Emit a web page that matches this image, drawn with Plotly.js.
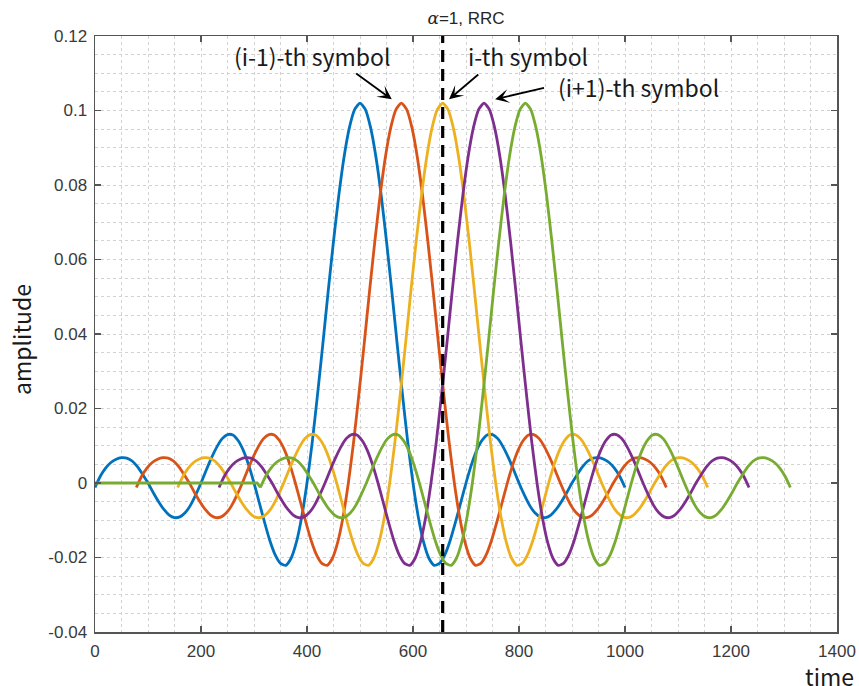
<!DOCTYPE html>
<html>
<head>
<meta charset="utf-8">
<script src="https://cdn.plot.ly/plotly-3.0.1.min.js"></script>
<style>
  html, body { margin: 0; padding: 0; background: #ffffff; }
  #chart { width: 859px; height: 686px; }
</style>
</head>
<body>
<div id="chart"></div>
<script>
// Sample times of one pulse, measured from the start of its symbol
const pulseTime = [
  0, 10, 20, 30, 40, 50, 60, 70, 80, 90,
  100, 110, 120, 130, 140, 150, 160, 170, 180, 190,
  200, 210, 220, 230, 240, 250, 260, 270, 280, 290,
  300, 310, 320, 330, 340, 350, 360, 370, 380, 390,
  400, 410, 420, 430, 440, 450, 460, 470, 480, 490,
  500,
  510, 520, 530, 540, 550, 560, 570, 580, 590, 600,
  610, 620, 630, 640, 650, 660, 670, 680, 690, 700,
  710, 720, 730, 740, 750, 760, 770, 780, 790, 800,
  810, 820, 830, 840, 850, 860, 870, 880, 890, 900,
  910, 920, 930, 940, 950, 960, 970, 980, 990, 1000
];

// Pulse amplitude at those times (alpha = 1, RRC)
const pulseAmp = [
  -0.0012, 0.0018, 0.0040, 0.0055, 0.0064, 0.0068, 0.0067, 0.0059, 0.0044, 0.0023,
  0.0000, -0.0026, -0.0050, -0.0071, -0.0086, -0.0093, -0.0091, -0.0080, -0.0060, -0.0032,
  0.0000, 0.0035, 0.0068, 0.0097, 0.0119, 0.0130, 0.0129, 0.0114, 0.0087, 0.0048,
  0.0000, -0.0053, -0.0106, -0.0155, -0.0193, -0.0216, -0.0221, -0.0202, -0.0159, -0.0091,
  0.0000, 0.0111, 0.0239, 0.0375, 0.0515, 0.0649, 0.0772, 0.0876, 0.0954, 0.1003,
  0.1020,
  0.1003, 0.0954, 0.0876, 0.0772, 0.0649, 0.0515, 0.0375, 0.0239, 0.0111, 0.0000,
  -0.0091, -0.0159, -0.0202, -0.0221, -0.0216, -0.0193, -0.0155, -0.0106, -0.0053, 0.0000,
  0.0048, 0.0087, 0.0114, 0.0129, 0.0130, 0.0119, 0.0097, 0.0068, 0.0035, 0.0000,
  -0.0032, -0.0060, -0.0080, -0.0091, -0.0093, -0.0086, -0.0071, -0.0050, -0.0026, 0.0000,
  0.0023, 0.0044, 0.0059, 0.0067, 0.0068, 0.0064, 0.0055, 0.0040, 0.0018, -0.0012
];

// Start time of each transmitted symbol's pulse
const symbolStart = [0, 78, 156, 234, 312];
const symbolColors = ['#0072BD', '#D95319', '#EDB120', '#7E2F8E', '#77AC30'];

// Zero-valued lead-in drawn before the last pulse
const leadTime = [0, 306, 312];
const leadAmp = [0, 0, -0.0012];

// Sampling instant of the i-th symbol
const sampleTime = 656;

const xTicks = [0, 200, 400, 600, 800, 1000, 1200, 1400];
const xTickText = ['0', '200', '400', '600', '800', '1000', '1200', '1400'];
const yTicks = [-0.04, -0.02, 0, 0.02, 0.04, 0.06, 0.08, 0.1, 0.12];
const yTickText = ['-0.04', '-0.02', '0', '0.02', '0.04', '0.06', '0.08', '0.1', '0.12'];

const traces = [];
symbolStart.forEach((t0, k) => {
  if (k === symbolStart.length - 1) {
    // flat lead-in of the last symbol, drawn straight
    traces.push({
      type: 'scatter', mode: 'lines', x: leadTime, y: leadAmp,
      line: { color: symbolColors[k], width: 2.8, shape: 'linear' },
      hoverinfo: 'skip'
    });
  }
  traces.push({
    type: 'scatter', mode: 'lines',
    x: pulseTime.map(t => t + t0), y: pulseAmp,
    line: { color: symbolColors[k], width: 2.8, shape: 'spline', smoothing: 0.6 },
    hoverinfo: 'skip'
  });
});

traces.push({
  type: 'scatter', mode: 'lines',
  x: [sampleTime, sampleTime], y: [-0.04, 0.12],
  line: { color: '#000000', width: 3.2, dash: '12px,7px' },
  hoverinfo: 'skip'
});

const gridCol = '#d2d2d2';
const axisCol = '#555555';
const tickFont = { family: 'Liberation Sans, Arial, sans-serif', size: 17, color: '#3a3a3a' };
const labelFont = { family: 'Noto Sans CJK SC, Noto Sans, sans-serif', size: 23, color: '#1a1a1a' };

const layout = {
  width: 859, height: 686,
  margin: { l: 95, r: 22, t: 36, b: 54 },
  paper_bgcolor: '#ffffff', plot_bgcolor: '#ffffff',
  showlegend: false,
  title: {
    text: '<span style="font-family:\'DejaVu Serif\'"><i>α</i></span>=1, RRC',
    font: { family: 'Liberation Sans, Arial, sans-serif', size: 17, color: '#262626' },
    x: 0.5, xref: 'paper', xanchor: 'center',
    y: 1 - 18 / 686, yref: 'container', yanchor: 'middle'
  },
  xaxis: {
    range: [0, 1400], tickmode: 'array', tickvals: xTicks, ticktext: xTickText,
    ticks: 'inside', ticklen: 6, tickwidth: 1.2, tickcolor: axisCol,
    showline: true, linecolor: axisCol, linewidth: 1.5, mirror: 'ticks',
    showgrid: true, gridcolor: gridCol, griddash: 'dot', gridwidth: 1,
    zeroline: false, tickfont: tickFont, ticklabelstandoff: 3,
    minor: { tick0: 0, dtick: 50, showgrid: true, gridcolor: gridCol, griddash: 'dot', gridwidth: 1, ticks: '' }
  },
  yaxis: {
    range: [-0.04, 0.12], tickmode: 'array', tickvals: yTicks, ticktext: yTickText,
    ticks: 'inside', ticklen: 6, tickwidth: 1.2, tickcolor: axisCol,
    showline: true, linecolor: axisCol, linewidth: 1.5, mirror: 'ticks',
    showgrid: true, gridcolor: gridCol, griddash: 'dot', gridwidth: 1,
    zeroline: false, tickfont: tickFont, ticklabelstandoff: 3,
    minor: { tick0: 0, dtick: 0.005, showgrid: true, gridcolor: gridCol, griddash: 'dot', gridwidth: 1, ticks: '' }
  },
  annotations: [
    { text: 'amplitude', xref: 'paper', yref: 'paper', x: 0, y: 0.49,
      xanchor: 'center', yanchor: 'middle', xshift: -74, textangle: -90,
      showarrow: false, font: labelFont },
    { text: 'time', xref: 'paper', yref: 'paper', x: 0.99, y: 0,
      xanchor: 'center', yanchor: 'middle', yshift: -44,
      showarrow: false, font: labelFont },
    { text: '(i-1)-th symbol', xref: 'x', yref: 'y', x: 410, y: 0.1145,
      xanchor: 'center', yanchor: 'middle', showarrow: false, font: labelFont },
    { text: 'i-th symbol', xref: 'x', yref: 'y', x: 817, y: 0.1145,
      xanchor: 'center', yanchor: 'middle', showarrow: false, font: labelFont },
    { text: '(i+1)-th symbol', xref: 'x', yref: 'y', x: 1025, y: 0.1062,
      xanchor: 'center', yanchor: 'middle', showarrow: false, font: labelFont },
    { text: '', xref: 'x', yref: 'y', axref: 'x', ayref: 'y',
      x: 560, y: 0.1030, ax: 490, ay: 0.1102,
      showarrow: true, arrowhead: 3, arrowsize: 1.3, arrowwidth: 1.8, arrowcolor: '#000000', standoff: 0 },
    { text: '', xref: 'x', yref: 'y', axref: 'x', ayref: 'y',
      x: 668, y: 0.1030, ax: 726, ay: 0.1100,
      showarrow: true, arrowhead: 3, arrowsize: 1.3, arrowwidth: 1.8, arrowcolor: '#000000', standoff: 0 },
    { text: '', xref: 'x', yref: 'y', axref: 'x', ayref: 'y',
      x: 755, y: 0.1030, ax: 850, ay: 0.1062,
      showarrow: true, arrowhead: 3, arrowsize: 1.3, arrowwidth: 1.8, arrowcolor: '#000000', standoff: 0 }
  ]
};

Plotly.newPlot('chart', traces, layout, { staticPlot: true, displayModeBar: false });
</script>
</body>
</html>
